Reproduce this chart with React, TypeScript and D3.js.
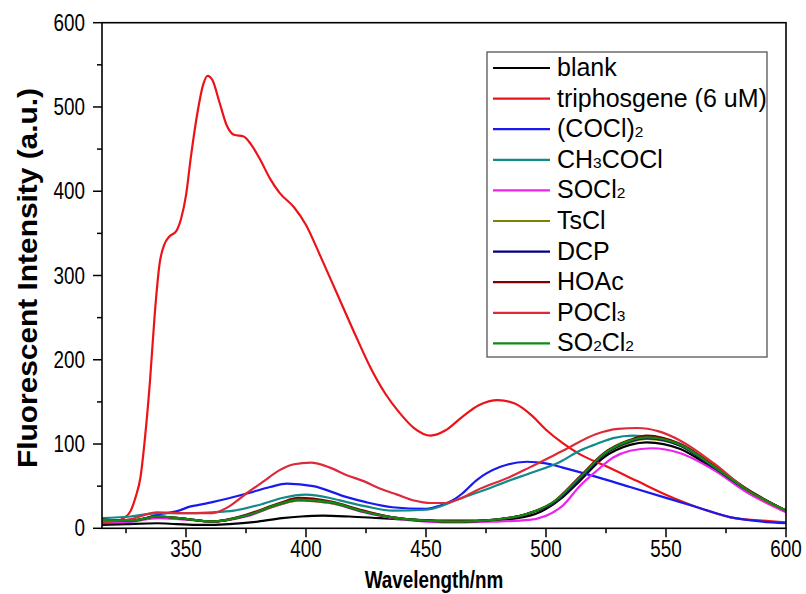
import React from "react";
import * as d3 from "d3";

type Pt = [number, number];

const blank: Pt[] = [[315,4],[325,5],[338,6],[346,5],[356,4],[368,5],[380,8],[390,12],[398,14],[407,15],[418,14],[431,12],[445,10],[460,9],[475,9],[488,12],[498,20],[507,37],[514,56],[524,84],[535,99],[542,102],[556,94],[570,70],[584,44],[600,20]];
const triphosgene: Pt[] = [[315,6],[320,7],[324,12],[327,21],[329,37],[331,60],[333,110],[335,175],[337,255],[339,314],[341,337],[343,346],[346,353],[348,368],[350,395],[352,440],[355,497],[357,525],[359,537],[361,532],[364,505],[367,478],[370,467],[374,465],[377,456],[381,437],[385,415],[389,398],[395,381],[400,360],[406,323],[413,278],[420,233],[427,190],[433,160],[439,137],[445,119],[452,110],[458,116],[465,132],[472,146],[480,152],[487,148],[494,134],[500,117],[507,101],[514,88],[524,75],[538,56],[549,41],[563,25],[577,13],[590,9],[600,7]];
const oxalyl: Pt[] = [[315,6],[327,8],[338,16],[347,21],[352,26],[356,28],[361,31],[375,41],[385,49],[392,53],[403,50],[417,37],[425,31],[436,25],[450,23],[456,27],[461,33],[465,41],[471,57],[481,73],[492,79],[500,77],[507,72],[521,61],[535,49],[549,37],[563,25],[577,13],[590,8],[600,6]];
const acetyl: Pt[] = [[315,12],[327,14],[338,18],[347,18],[361,19],[370,21],[382,29],[390,36],[400,40],[410,36],[417,31],[425,26],[436,21],[450,22],[464,35],[472,43],[485,57],[493,65],[506,79],[514,92],[521,100],[528,107],[536,110],[545,108],[556,100],[570,74],[584,46],[600,21]];
const thionyl: Pt[] = [[315,7],[327,8],[338,12],[347,11],[361,8],[375,14],[389,28],[397,33],[410,30],[424,19],[436,12],[450,8],[464,7],[478,8],[493,10],[507,27],[514,50],[521,68],[528,84],[535,92],[544,95],[556,89],[570,69],[584,42],[600,19]];
const tosyl: Pt[] = [[315,10],[327,9],[338,14],[347,12],[361,8],[375,15],[389,28],[397,33],[410,30],[424,20],[436,13],[450,9],[464,8],[478,10],[492,17],[503,30],[514,59],[524,87],[535,102],[542,106],[556,98],[570,72],[584,45],[600,21]];
const dcp: Pt[] = [[315,10],[327,9],[338,14],[347,12],[361,8],[375,15],[389,29],[397,34],[410,31],[424,20],[436,13],[450,9],[464,8],[478,10],[492,17],[503,30],[514,59],[524,87],[535,103],[542,107],[556,98],[570,72],[584,45],[600,21]];
const hoac: Pt[] = [[315,10],[327,9],[338,14],[347,12],[361,8],[375,16],[389,30],[397,36],[410,32],[424,21],[436,13],[450,9],[464,8],[478,10],[492,17],[503,31],[514,61],[524,89],[535,105],[542,110],[556,100],[570,74],[584,46],[600,21]];
const phosphoryl: Pt[] = [[315,7],[327,11],[338,19],[347,18],[361,18],[368,26],[375,41],[382,55],[389,69],[395,76],[402,78],[410,72],[417,63],[424,56],[431,47],[438,40],[445,33],[452,30],[458,30],[464,35],[471,45],[485,61],[493,72],[507,92],[521,112],[530,118],[538,119],[547,115],[556,104],[570,77],[584,45],[600,21]];
const sulfuryl: Pt[] = [[315,10],[327,9],[338,14],[347,12],[361,8],[375,15],[389,29],[397,34],[410,31],[424,20],[436,13],[450,9],[464,8],[478,10],[492,17],[503,31],[514,60],[524,88],[535,104],[542,108],[556,99],[570,73],[584,45],[600,21]];

const seriesNames = ["blank", "triphosgene (6 uM)", "(COCl)_2", "CH_3COCl", "SOCl_2", "TsCl", "DCP", "HOAc", "POCl_3", "SO_2Cl_2"];
const seriesColors = ["#000000", "#ec1318", "#1a1aee", "#118a8a", "#ee22ee", "#808000", "#000080", "#800000", "#dd2a3a", "#118a11"];
const seriesData = [blank, triphosgene, oxalyl, acetyl, thionyl, tosyl, dcp, hoac, phosphoryl, sulfuryl];

const xMajor = [350, 400, 450, 500, 550, 600];
const xMinor = [325, 375, 425, 475, 525, 575];
const yMajor = [0, 100, 200, 300, 400, 500, 600];
const yMinor = [50, 150, 250, 350, 450, 550];

const xTitle = "Wavelength/nm";
const yTitle = "Fluorescent Intensity (a.u.)";

const W = 806, H = 594;
const L = 102, R = 786, T = 22.7, B = 528.3;
const FONT = "'Liberation Sans', Arial, sans-serif";
const NARROW = 0.82;

function Label({ text, size }: { text: string; size: number }) {
  const parts: React.ReactNode[] = [];
  const re = /_(\d)/g;
  let last = 0;
  let m: RegExpExecArray | null;
  let k = 0;
  while ((m = re.exec(text))) {
    if (m.index > last) parts.push(<tspan key={k++}>{text.slice(last, m.index)}</tspan>);
    parts.push(<tspan key={k++} fontSize={size * 0.62}>{m[1]}</tspan>);
    last = m.index + m[0].length;
  }
  if (last < text.length) parts.push(<tspan key={k++}>{text.slice(last)}</tspan>);
  return <>{parts}</>;
}

export default function App() {
  const x = d3.scaleLinear().domain([315, 600]).range([L, R]);
  const y = d3.scaleLinear().domain([0, 600]).range([B, T]);
  const line = d3.line<Pt>().x(d => x(d[0])).y(d => y(d[1])).curve(d3.curveMonotoneX);

  const legX = 487, legY = 52, legW = 280, legH = 305;
  const rowH = 30.6;

  return (
    <div style={{ position: "fixed", left: 0, top: 0 }}>
      <svg width={W} height={H} style={{ display: "block", background: "#fff" }}>
        <defs>
          <clipPath id="plot"><rect x={L} y={T} width={R - L} height={B - T} /></clipPath>
        </defs>
        <g clipPath="url(#plot)">
          {seriesData.map((d, i) => (
            <path key={i} d={line(d) || ""} fill="none" stroke={seriesColors[i]} strokeWidth={2.2} strokeLinejoin="round" />
          ))}
        </g>
        <rect x={L} y={T} width={R - L} height={B - T} fill="none" stroke="#000" strokeWidth={1.6} />
        {xMajor.map(v => (
          <g key={"xM" + v}>
            <line x1={x(v)} x2={x(v)} y1={B} y2={B + 9} stroke="#000" strokeWidth={1.5} />
            <text transform={`translate(${x(v)},${B + 29}) scale(${NARROW},1)`} textAnchor="middle" fontFamily={FONT} fontSize={23}>{v}</text>
          </g>
        ))}
        {xMinor.map(v => (
          <line key={"xm" + v} x1={x(v)} x2={x(v)} y1={B} y2={B + 5} stroke="#000" strokeWidth={1.5} />
        ))}
        {yMajor.map(v => (
          <g key={"yM" + v}>
            <line x1={L - 9} x2={L} y1={y(v)} y2={y(v)} stroke="#000" strokeWidth={1.5} />
            <text transform={`translate(${L - 17},${y(v) + 8}) scale(${NARROW},1)`} textAnchor="end" fontFamily={FONT} fontSize={23}>{v}</text>
          </g>
        ))}
        {yMinor.map(v => (
          <line key={"ym" + v} x1={L - 5} x2={L} y1={y(v)} y2={y(v)} stroke="#000" strokeWidth={1.5} />
        ))}
        <text transform={`translate(${(L + R) / 2 - 10},${588}) scale(${NARROW},1)`} textAnchor="middle" fontFamily={FONT} fontSize={23} fontWeight="bold">{xTitle}</text>
        <text transform={`translate(37,${278}) rotate(-90)`} textAnchor="middle" fontFamily={FONT} fontSize={27} fontWeight="bold" textLength={380} lengthAdjust="spacingAndGlyphs">{yTitle}</text>
        <rect x={legX} y={legY} width={legW} height={legH} fill="#fff" stroke="#555" strokeWidth={1.3} />
        {seriesNames.map((n, i) => {
          const cy = legY + 16 + i * rowH;
          return (
            <g key={"lg" + i}>
              <line x1={legX + 6} x2={legX + 63} y1={cy} y2={cy} stroke={seriesColors[i]} strokeWidth={2.2} />
              <text x={legX + 70} y={cy + 8} fontFamily={FONT} fontSize={25}><Label text={n} size={25} /></text>
            </g>
          );
        })}
      </svg>
    </div>
  );
}
